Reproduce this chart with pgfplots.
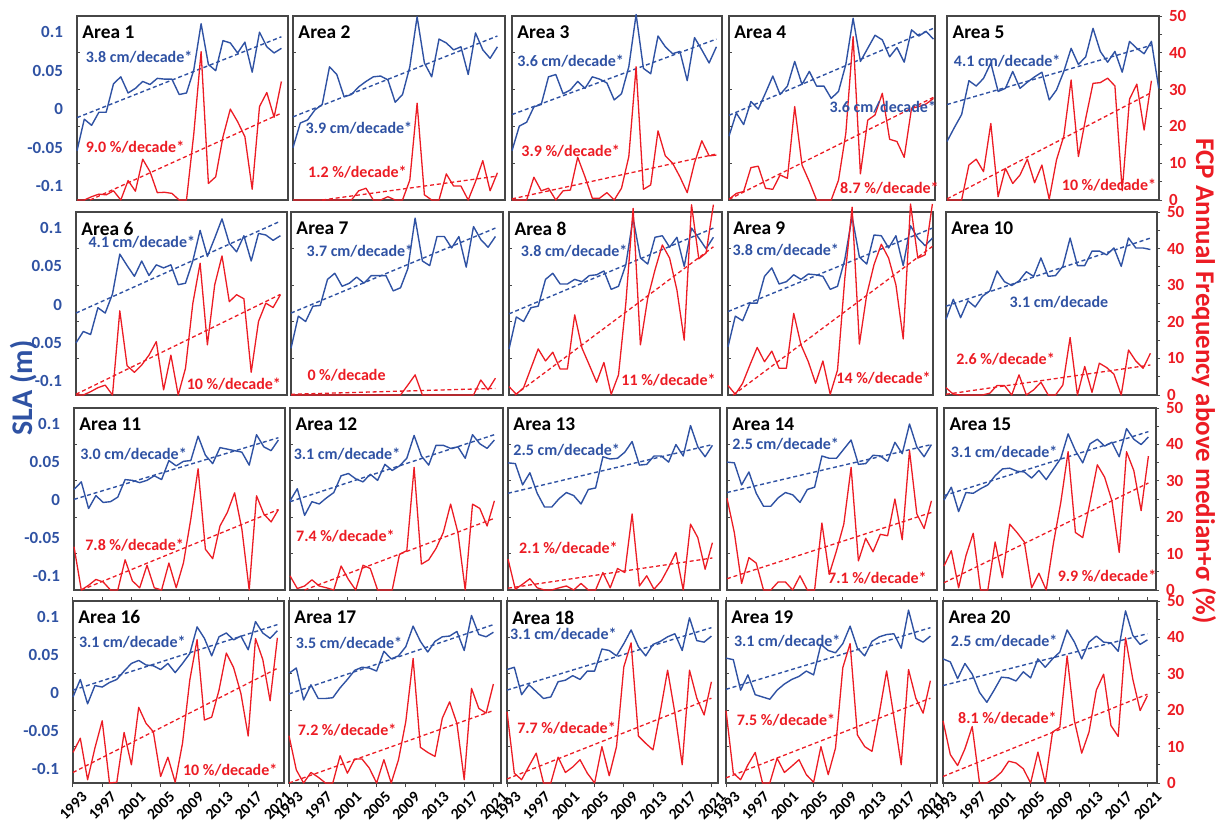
\documentclass[border=0pt]{standalone}
\usepackage{fontspec}
\setmainfont{Carlito}
\usepackage{pgfplots}
\pgfplotsset{compat=1.18}
\usepackage{pgfplotstable}

\definecolor{slablue}{RGB}{47,82,163}
\definecolor{fcpred}{RGB}{236,28,36}
\definecolor{framegray}{RGB}{70,70,70}

\newcommand\titlefont{\fontsize{9.7}{11}\selectfont\bfseries}
\newcommand\annfont{\fontsize{8}{9}\selectfont\bfseries}
\newcommand\tickfont{\fontsize{8.5}{9}\selectfont\bfseries}
\newcommand\yearfont{\fontsize{7.8}{8}\selectfont\bfseries}
\newcommand\labfont{\fontsize{15}{17}\selectfont\bfseries}

% SLA (m), one row per area
\pgfplotstableread{
name 1993 1994 1995 1996 1997 1998 1999 2000 2001 2002 2003 2004 2005 2006 2007 2008 2009 2010 2011 2012 2013 2014 2015 2016 2017 2018 2019 2020 2021 2022
s1 -0.054 -0.013 -0.021 -0.004 -0.004 0.033 0.042 0.021 0.027 0.036 0.032 0.040 0.039 0.039 0.019 0.021 0.051 0.111 0.058 0.050 0.089 0.086 0.073 0.087 0.048 0.100 0.081 0.073 0.079 nan
s2 -0.050 -0.018 -0.014 -0.001 0.006 0.055 0.045 0.016 0.019 0.029 0.036 0.042 0.043 0.038 0.009 0.019 0.055 0.120 0.060 0.042 0.091 0.086 0.077 0.081 0.045 0.099 0.077 0.066 0.081 nan
s3 -0.054 -0.022 -0.017 0.003 0.006 0.042 0.045 0.020 0.025 0.036 0.027 0.042 0.039 0.034 0.012 0.020 0.055 0.123 0.053 0.046 0.095 0.081 0.072 0.075 0.037 0.093 0.077 0.060 0.081 nan
s4 -0.035 -0.005 -0.020 0.010 0.000 0.021 0.043 0.019 0.030 0.062 0.032 0.049 0.030 0.030 0.014 0.023 0.058 0.118 0.062 0.079 0.096 0.090 0.068 0.080 0.061 0.103 0.095 0.101 0.091 nan
s5 -0.042 -0.024 -0.007 0.037 0.030 0.040 0.060 0.023 0.027 0.049 0.027 0.035 0.042 0.048 0.012 0.025 0.049 0.079 0.058 0.068 0.105 0.075 0.061 0.075 0.048 0.088 0.079 0.072 0.088 0.027
s6 -0.050 -0.035 -0.039 -0.004 -0.011 0.014 0.066 0.051 0.037 0.057 0.038 0.052 0.048 0.052 0.026 0.028 0.057 0.097 0.063 0.087 0.112 0.080 0.069 0.090 0.057 0.093 0.091 0.084 0.090 nan
s7 -0.057 -0.015 -0.022 -0.002 -0.001 0.033 0.041 0.024 0.028 0.036 0.028 0.038 0.038 0.038 0.018 0.022 0.047 0.113 0.057 0.051 0.089 0.089 0.074 0.089 0.049 0.102 0.085 0.075 0.089 nan
s8 -0.058 -0.016 -0.022 -0.004 -0.002 0.033 0.041 0.027 0.027 0.033 0.030 0.038 0.039 0.044 0.020 0.024 0.052 0.113 0.061 0.053 0.088 0.090 0.075 0.088 0.050 0.100 0.087 0.073 0.088 nan
s9 -0.055 -0.015 -0.021 0.002 0.002 0.037 0.048 0.027 0.030 0.039 0.033 0.040 0.039 0.037 0.020 0.024 0.059 0.115 0.062 0.053 0.091 0.090 0.074 0.090 0.051 0.103 0.087 0.077 0.087 nan
s10 -0.019 0.007 -0.017 0.005 -0.003 0.011 0.018 0.044 0.030 0.025 0.031 0.043 0.037 0.061 0.037 0.038 0.050 0.087 0.051 0.051 0.070 0.070 0.065 0.074 0.050 0.087 0.074 0.074 0.072 nan
s11 0.014 0.024 -0.011 0.006 -0.003 -0.002 0.004 0.027 0.026 0.023 0.026 0.032 0.027 0.052 0.045 0.051 0.052 0.084 0.059 0.048 0.069 0.067 0.065 0.063 0.046 0.086 0.070 0.065 0.079 nan
s12 -0.001 0.015 -0.020 -0.002 -0.005 0.003 0.010 0.032 0.035 0.028 0.024 0.034 0.026 0.047 0.039 0.045 0.055 0.085 0.058 0.046 0.072 0.072 0.068 0.070 0.055 0.086 0.074 0.068 0.079 nan
s13 0.049 0.048 0.020 0.036 0.009 -0.009 -0.009 0.002 0.010 0.006 -0.005 0.014 0.016 0.057 0.054 0.055 0.063 0.077 0.046 0.047 0.058 0.058 0.050 0.073 0.058 0.098 0.070 0.057 0.072 nan
s14 0.050 0.049 0.020 0.037 0.009 -0.008 -0.008 0.003 0.010 0.007 -0.003 0.014 0.017 0.058 0.055 0.055 0.067 0.079 0.047 0.048 0.059 0.058 0.051 0.076 0.061 0.100 0.070 0.057 0.073 nan
s15 0.000 0.017 -0.015 0.010 0.009 0.015 0.020 0.032 0.041 0.042 0.038 0.037 0.029 0.039 0.027 0.041 0.055 0.087 0.065 0.049 0.074 0.080 0.071 0.076 0.057 0.094 0.080 0.073 0.083 nan
s16 -0.005 0.018 -0.014 0.010 0.008 0.014 0.018 0.029 0.039 0.043 0.037 0.036 0.031 0.039 0.027 0.039 0.052 0.087 0.072 0.049 0.074 0.079 0.070 0.075 0.057 0.094 0.079 0.072 0.082 nan
s17 0.026 0.033 -0.009 0.011 -0.007 -0.007 -0.006 0.007 0.018 0.030 0.034 0.033 0.029 0.055 0.045 0.049 0.061 0.088 0.068 0.054 0.068 0.074 0.075 0.081 0.056 0.102 0.077 0.074 0.080 nan
s18 0.031 0.034 -0.002 0.011 0.002 -0.007 -0.005 0.015 0.017 0.023 0.018 0.029 0.029 0.058 0.056 0.049 0.065 0.083 0.061 0.049 0.064 0.068 0.074 0.078 0.056 0.099 0.069 0.067 0.075 nan
s19 0.046 0.044 0.004 0.024 -0.002 -0.005 -0.008 0.004 0.012 0.018 0.022 0.029 0.024 0.064 0.056 0.053 0.065 0.088 0.059 0.049 0.068 0.074 0.077 0.078 0.059 0.109 0.072 0.067 0.075 nan
s20 0.045 0.041 0.019 0.039 0.025 0.001 -0.012 0.004 0.021 0.020 0.016 0.028 0.020 0.045 0.034 0.045 0.054 0.083 0.067 0.045 0.067 0.075 0.067 0.066 0.055 0.108 0.076 0.064 0.070 nan
}\slaraw
\pgfplotstabletranspose[colnames from=name]{\slatab}{\slaraw}

% FCP frequency (%), one row per area
\pgfplotstableread{
name 1993 1994 1995 1996 1997 1998 1999 2000 2001 2002 2003 2004 2005 2006 2007 2008 2009 2010 2011 2012 2013 2014 2015 2016 2017 2018 2019 2020 2021
f1 0 0 0.9 1.6 1.4 2.5 0 5.3 2.4 11.1 7.7 2.0 2.1 1.8 0 0 18 40.3 4.5 6.3 17.2 24.7 21.3 17.2 2.9 25.4 29.2 22.5 32.2
f2 0 0 0 0 0 0 0 0 0 2.5 3.2 0 0 0.9 0 0 5.4 26.3 1.4 0 0 7.1 3.8 3.8 0 5.0 10.7 2.5 7.4
f3 0 0 0 6.2 2.5 3.2 0 2.5 2.7 11.6 6.3 0.5 0.5 2.0 0 3.2 11.8 36.2 2.9 4.1 18.8 12.0 10.0 6.3 2.0 10.1 16.1 12.0 12.2
f4 0.2 1.8 2.3 8.8 9.2 3.2 2.9 6.8 5.9 25.4 9.5 5.0 0 0 0 5.4 18.1 44.4 7.1 21.7 23.1 29.0 16.5 15.9 11.6 24.9 25.4 26.1 27.6
f5 0 0 0 9.5 11.1 7.7 20.8 0.9 8.6 4.5 6.8 11.1 4.7 9.5 0.2 10.9 17.4 32.6 11.8 22.2 31.7 31.9 33.1 31.0 2.5 27.4 31.5 19.0 32.4
f6 0 0 0.9 2.0 2.7 0 23.0 8.0 6.2 8.2 10.9 14.6 1.4 10.9 0 7.3 25 36.0 13.7 30.1 38.0 25.5 27.4 26.3 6.2 20.1 25.1 23.9 27.4
f7 0 0 0 0 0 0 0 0 0 0 0 0 0 0 0 0 2.7 5.5 0 0 0 0 0 0 0 0 4.1 1.4 4.6
f8 2.3 0.2 2.0 7.3 12.6 9.3 11.7 7.1 7.1 21.9 12.8 8.2 3.5 8.9 0.2 5.5 25 51 13.7 26.4 34.2 41.0 37.4 28.7 15.0 52 37.2 38.8 52
f9 2.6 0.2 3.2 8.2 13.0 9.1 12.0 7.3 7.3 22.3 13.7 9.1 3.2 9.3 0.2 6.8 31.9 51.3 13.9 27.4 35.6 41.2 37.4 30.1 15.3 52.2 37.4 38.3 52.2
f10 2.0 0.2 0 0 0 0 0.5 2.6 2.6 0 5.5 0 1.4 3.5 0 0 2.7 15.7 0 7.8 0.7 8.7 7.5 5.7 0 12.3 9.3 7.3 11.4
f11 11.9 0 1.3 2.9 2.2 0 0 8.3 2.5 0.6 6.8 0.6 0 7.4 0.6 7.5 19.5 33.3 11.2 8.6 17.6 21.3 26.7 16.7 0 25.9 20.9 18.7 22.1
f12 3.9 0.4 1.1 2.8 1.1 0.6 0 6.6 2.9 0 6.8 5.9 0 0 0 9.8 10.8 33.7 7.1 8.3 11.4 15.8 23.6 15.8 0 23.6 22.4 17.6 24.5
f13 8.5 0.2 1.6 3.1 0.6 0 0 0.6 1.1 0 1.8 0 0 4.8 0.6 5.9 4.8 20.9 1.1 3.9 0.2 2.5 6.2 10.3 0 18.1 14.4 5.7 13.0
f14 25.2 15.8 1.8 8.9 7.4 0 0 2.2 2.2 0 3.9 0 0 18.4 4.3 10.8 18.1 33.7 8.0 14.2 10.5 15.3 14.9 25.0 13.8 38.3 20.9 16.9 24.5
f15 6.6 10.8 0.6 9.4 15.6 0 0 13.2 3.4 18.1 15.8 13.2 0.6 4.6 0 13.0 24.1 38.0 15.8 14.4 24.1 34.4 31.0 24.5 10.3 38.0 32.8 21.8 36.8
f16 8.4 12.3 0.9 9.6 17.1 0 0.2 13.9 5.0 20.8 16.4 14.1 1.8 7.1 0.2 10.9 28.3 39.4 17.3 18.1 25.5 35.7 31.7 24.6 12.9 39.7 33.9 22.6 39.9
f17 13.0 3.6 0 2.9 1.6 0 0 7.5 2.7 6.6 6.6 4.1 0 6.4 0 6.4 16.9 34.2 9.8 8.4 7.3 17.8 22.3 16.4 0.9 26.0 20.5 19.2 27.2
f18 19.6 2.7 0.9 4.6 8.2 0 0 7.1 2.9 4.4 6.4 2.7 0 10.0 2.0 10.0 31.9 38.5 12.9 10.9 9.1 19.6 31.0 19.2 5.0 31.0 23.3 18.7 27.8
f19 19.9 2.7 0.9 5.0 8.4 0 0 6.8 2.9 4.6 6.4 2.3 0.2 10.0 2.3 9.6 31.7 38.3 13.2 10.0 8.7 19.2 30.8 18.2 5.0 31.2 23.3 19.2 28.1
f20 17.1 7.8 4.8 9.4 15.5 0 0 1.2 3.0 6.0 5.5 3.9 0 8.5 0 14.0 15.3 34.9 17.1 8.2 14.0 25.5 29.9 15.8 12.8 39.9 28.5 19.9 24.0
}\fcpraw
\pgfplotstabletranspose[colnames from=name]{\fcptab}{\fcpraw}

\pgfplotsset{
  slaline/.style={slablue, line width=0.7pt, mark=none, line join=round},
  fcpline/.style={fcpred, line width=0.65pt, mark=none, line join=round},
  trend/.style={dash pattern=on 2pt off 1.4pt},
  blueax/.style={scale only axis, anchor=north west, xmin=1993,
    ymin=-0.118, ymax=0.121, clip=false,
    axis line style={draw=framegray, line width=0.7pt},
    ytick style={draw=none},
    yticklabel style={font=\tickfont, text=slablue, xshift=-1.5pt},
    xtick style={draw=framegray, line width=0.5pt}, tick align=outside,
    major tick length=2pt,
    xticklabel style={rotate=45, anchor=north east, font=\yearfont,
      inner sep=0.5pt, xshift=2pt, yshift=-3.5pt}},
  redax/.style={scale only axis, anchor=north west, xmin=1993,
    ymin=0, ymax=50, clip=false, hide x axis,
    y axis line style={draw=none},
    yticklabel style={font=\tickfont, text=fcpred},
    ytick style={draw=framegray, line width=0.5pt},
    major tick length=1.5pt, minor tick length=1.5pt},
}

\newif\ifLcol \newif\ifRcol \newif\ifBrow
\pgfkeys{/panel/.cd,
  n/.store in=\pN, x/.store in=\pX, y/.store in=\pY,
  w/.store in=\pW, h/.store in=\pH,
  b/.store in=\pB, r/.store in=\pR,
  bt/.store in=\pBt, bx/.store in=\pBx, by/.store in=\pBy,
  rt/.store in=\pRt, rx/.store in=\pRx, ry/.store in=\pRy,
  L/.code={\Lcoltrue}, R/.code={\Rcoltrue}, B/.code={\Browtrue}}

% one area: blue SLA axis and red FCP axis on top of each other
\newcommand\Panel[1]{%
  \Lcolfalse\Rcolfalse\Browfalse
  \pgfkeys{/panel/.cd,#1}%
  \pgfmathsetmacro\pXp{\pX*0.5}%
  \pgfmathsetmacro\pYp{-\pY*0.5}%
  \pgfmathsetmacro\pWp{\pW*0.5}%
  \pgfmathsetmacro\pHp{\pH*0.5}%
  \pgfmathsetmacro\pXmax{1993+\pW/7.3}%
  \ifLcol
    \pgfplotsset{curB/.style={ytick={-0.1,-0.05,0,0.05,0.1},
      yticklabels={-0.1,-0.05,0,0.05,0.1}}}%
  \else
    \pgfplotsset{curB/.style={ytick=\empty}}%
  \fi
  \ifBrow
    \pgfplotsset{curX/.style={xtick={1993,1997,2001,2005,2009,2013,2017,2021},
      xticklabels={1993,1997,2001,2005,2009,2013,2017,2021}}}%
  \else
    \pgfplotsset{curX/.style={xtick=\empty}}%
  \fi
  \ifRcol
    \pgfplotsset{curR/.style={axis y line*=right, ytick={0,10,20,30,40,50},
      yticklabels={0,10,20,30,40,50}, minor ytick={5,15,25,35,45},
      tick align=outside}}%
  \else
    \pgfplotsset{curR/.style={axis y line*=left, ytick={10,20,30,40},
      yticklabels={}, tick align=inside}}%
  \fi
  \begin{axis}[blueax, at={(\pXp pt,\pYp pt)}, width=\pWp pt, height=\pHp pt,
      xmax=\pXmax, curB, curX]
    \edef\tmp{\noexpand\addplot[slaline] table[x=colnames,y=s\pN]{\noexpand\slatab};}\tmp
    \edef\tmp{\noexpand\addplot[slaline,trend] coordinates {\pB};}\tmp
  \end{axis}
  \begin{axis}[redax, at={(\pXp pt,\pYp pt)}, width=\pWp pt, height=\pHp pt,
      xmax=\pXmax, curR]
    \edef\tmp{\noexpand\addplot[fcpline] table[x=colnames,y=f\pN]{\noexpand\fcptab};}\tmp
    \edef\tmp{\noexpand\addplot[fcpline,trend] coordinates {\pR};}\tmp
    \node[anchor=west, inner sep=0pt, font=\titlefont] at (rel axis cs:0.024,0.91) {Area \pN};
    \node[anchor=west, inner sep=0pt, font=\annfont, text=slablue] at (rel axis cs:\pBx,\pBy) {\pBt};
    \node[anchor=west, inner sep=0pt, font=\annfont, text=fcpred] at (rel axis cs:\pRx,\pRy) {\pRt};
  \end{axis}
}

\begin{document}
\begin{tikzpicture}
\path[use as bounding box] (0,0) rectangle (609pt,-412.5pt);

% row 1
\Panel{n=1, x=77, y=16, w=211, h=184, L,
  b={(1993,-0.011) (2021,0.094)}, r={(1994.8,0) (2021,23.6)},
  bt=3.8 cm/decade*, bx=0.04, by=0.775, rt=9.0 \%/decade*, rx=0.04, ry=0.29}
\Panel{n=2, x=293, y=16, w=212, h=184,
  b={(1993,-0.010) (2021,0.095)}, r={(1997,0) (2021,6.5)},
  bt=3.9 cm/decade*, bx=0.058, by=0.39, rt=1.2 \%/decade*, rx=0.07, ry=0.154}
\Panel{n=3, x=512, y=16, w=210, h=184,
  b={(1993,-0.007) (2021,0.091)}, r={(1993,0.3) (2021,12.5)},
  bt=3.6 cm/decade*, bx=0.024, by=0.755, rt=3.9 \%/decade*, rx=0.043, ry=0.263}
\Panel{n=4, x=729, y=16, w=206, h=184,
  b={(1993,-0.008) (2021,0.105)}, r={(1993,0.2) (2021,27.9)},
  bt=3.6 cm/decade*, bx=0.486, by=0.507, rt=8.7 \%/decade*, rx=0.538, ry=0.063}
\Panel{n=5, x=947, y=16, w=212, h=184, R,
  b={(1993,0.006) (2021,0.083)}, r={(1993,0.3) (2021,29.2)},
  bt=4.1 cm/decade*, bx=0.031, by=0.752, rt=10 \%/decade*, rx=0.54, ry=0.082}
% row 2
\Panel{n=6, x=76, y=212, w=211, h=183, L,
  b={(1993,-0.011) (2021,0.109)}, r={(1993,0.2) (2021,27.5)},
  bt=4.1 cm/decade*, bx=0.058, by=0.836, rt=10 \%/decade*, rx=0.523, ry=0.06}
\Panel{n=7, x=291, y=212, w=212, h=183,
  b={(1993,-0.011) (2021,0.100)}, r={(1993,0.2) (2021,1.8)},
  bt=3.7 cm/decade*, bx=0.072, by=0.785, rt=0 \%/decade, rx=0.076, ry=0.11}
\Panel{n=8, x=509, y=212, w=213, h=183,
  b={(1993,-0.012) (2021,0.100)}, r={(1993.8,0) (2021,40.5)},
  bt=3.8 cm/decade*, bx=0.054, by=0.788, rt=11 \%/decade*, rx=0.526, ry=0.082}
\Panel{n=9, x=728, y=212, w=205, h=183,
  b={(1993,-0.009) (2021,0.100)}, r={(1993.7,0) (2021,40.6)},
  bt=3.8 cm/decade*, bx=0.02, by=0.794, rt=14 \%/decade*, rx=0.527, ry=0.091}
\Panel{n=10, x=946, y=212, w=211, h=183, R,
  b={(1993,-0.002) (2021,0.087)}, r={(1993,0.2) (2021,8.2)},
  bt=3.1 cm/decade, bx=0.3, by=0.507, rt=2.6 \%/decade*, rx=0.047, ry=0.197}
% row 3
\Panel{n=11, x=74, y=408, w=211, h=182, L,
  b={(1993,0.001) (2021,0.082)}, r={(1994,0) (2021,22.1)},
  bt=3.0 cm/decade*, bx=0.028, by=0.748, rt=7.8 \%/decade*, rx=0.052, ry=0.246}
\Panel{n=12, x=290, y=408, w=213, h=182,
  b={(1993,-0.002) (2021,0.086)}, r={(1995,0) (2021,19.7)},
  bt=3.1 cm/decade*, bx=0.016, by=0.744, rt=7.4 \%/decade*, rx=0.027, ry=0.294}
\Panel{n=13, x=508, y=408, w=212, h=182,
  b={(1993,0.009) (2021,0.073)}, r={(1993,0.5) (2021,8.8)},
  bt=2.5 cm/decade*, bx=0.024, by=0.767, rt=2.1 \%/decade*, rx=0.051, ry=0.23}
\Panel{n=14, x=727, y=408, w=210, h=182,
  b={(1993,0.010) (2021,0.073)}, r={(1993,3.1) (2021,21.3)},
  bt=2.5 cm/decade*, bx=0.024, by=0.803, rt=7.1 \%/decade*, rx=0.48, ry=0.0625}
\Panel{n=15, x=944, y=408, w=212, h=182, R,
  b={(1993,0.006) (2021,0.090)}, r={(1993,2.0) (2021,29.4)},
  bt=3.1 cm/decade*, bx=0.031, by=0.757, rt=9.9 \%/decade*, rx=0.535, ry=0.077}
% row 4
\Panel{n=16, x=73, y=601, w=211, h=182, L, B,
  b={(1993,0.004) (2021,0.090)}, r={(1993,2.9) (2021,31.5)},
  bt=3.1 cm/decade*, bx=0.027, by=0.776, rt=10 \%/decade*, rx=0.52, ry=0.073}
\Panel{n=17, x=289, y=601, w=212, h=182, B,
  b={(1993,-0.001) (2021,0.090)}, r={(1993,0) (2021,19.9)},
  bt=3.5 cm/decade*, bx=0.03, by=0.766, rt=7.2 \%/decade*, rx=0.04, ry=0.292}
\Panel{n=18, x=507, y=601, w=211, h=182, B,
  b={(1993,0.004) (2021,0.086)}, r={(1993,1.1) (2021,23.3)},
  bt=3.1 cm/decade*, bx=0.013, by=0.82, rt=7.7 \%/decade*, rx=0.047, ry=0.30}
\Panel{n=19, x=726, y=601, w=211, h=182, B,
  b={(1993,0.005) (2021,0.086)}, r={(1993,1.4) (2021,23.3)},
  bt=3.1 cm/decade*, bx=0.036, by=0.781, rt=7.5 \%/decade*, rx=0.049, ry=0.343}
\Panel{n=20, x=943, y=601, w=214, h=182, R, B,
  b={(1993,0.010) (2021,0.078)}, r={(1993,1.8) (2021,24.4)},
  bt=2.5 cm/decade*, bx=0.035, by=0.781, rt=8.1 \%/decade*, rx=0.069, ry=0.358}

\node[rotate=90, font=\labfont, text=slablue] at (12pt,-194pt) {SLA (m)};
\node[rotate=-90, font=\fontsize{13.5}{15}\selectfont\bfseries, text=fcpred]
  at (602pt,-190.5pt) {FCP Annual Frequency above median+σ (\%)};
\end{tikzpicture}
\end{document}
